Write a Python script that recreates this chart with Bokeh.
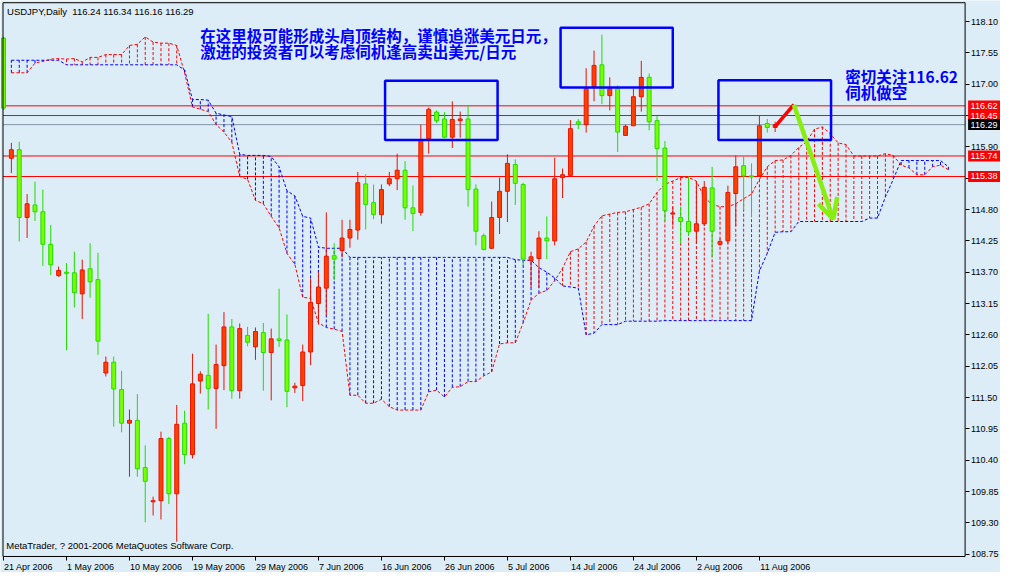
from bokeh.plotting import figure
from bokeh.models import (Range1d, Label, FixedTicker, ColumnDataSource, LinearAxis,
                          PrintfTickFormatter)
from bokeh.core.properties import value
from bokeh.embed import file_html
from bokeh.resources import INLINE

# ---------------- data ----------------
opens = [117.81, 115.70, 115.85, 114.66, 114.88, 114.76, 114.19, 113.64, 113.70, 113.69,
         113.32, 113.76, 113.57, 111.93, 112.12, 111.64, 111.05, 111.10, 110.27, 109.67,
         109.69, 110.78, 109.81, 111.05, 110.50, 111.79, 111.89, 111.66, 112.06, 112.74,
         111.62, 112.59, 112.39, 112.64, 112.29, 112.53, 112.51, 111.67, 111.71, 112.30,
         113.15, 113.42, 113.99, 114.08, 114.30, 114.44, 115.25, 114.92, 114.71, 115.25,
         115.34, 115.49, 114.83, 114.75, 116.04, 116.51, 116.39, 116.07, 116.36, 116.39,
         115.16, 114.34, 114.12, 114.66, 115.12, 115.59, 115.24, 113.90, 113.94, 114.30,
         114.25, 115.36, 115.40, 116.34, 116.29, 116.96, 117.34, 116.80, 116.92, 116.10,
         116.27, 116.78, 117.12, 116.36, 115.88, 114.72, 114.66, 114.59, 114.42, 114.55,
         115.18, 114.19, 114.25, 115.08, 115.57, 115.39, 115.39, 116.31, 116.24]
highs = [117.83, 115.97, 115.99, 115.07, 115.29, 115.15, 114.53, 113.80, 113.86, 114.06,
         113.92, 114.21, 114.04, 112.22, 112.22, 111.97, 111.29, 111.56, 110.66, 109.76,
         110.90, 110.81, 111.37, 111.27, 112.27, 111.96, 112.97, 112.43, 113.00, 112.88,
         112.80, 112.74, 112.73, 112.81, 112.71, 113.41, 112.96, 111.76, 112.43, 113.59,
         113.70, 114.75, 114.21, 114.62, 114.62, 115.46, 115.42, 115.24, 115.24, 115.46,
         115.78, 115.65, 115.22, 116.29, 116.59, 116.54, 116.51, 116.70, 116.52, 116.63,
         115.24, 114.38, 114.94, 115.36, 115.77, 115.68, 115.27, 114.06, 114.42, 114.68,
         115.71, 115.52, 116.37, 116.39, 117.28, 117.59, 117.87, 117.12, 116.98, 116.29,
         116.92, 117.41, 117.19, 116.44, 116.00, 114.85, 114.85, 115.38, 115.30, 115.30,
         115.55, 114.29, 115.22, 115.75, 115.73, 115.61, 116.45, 116.39, 116.34]
lows = [116.55, 115.44, 114.24, 114.30, 114.60, 113.81, 113.65, 113.62, 112.33, 113.08,
        112.88, 113.25, 112.25, 111.87, 110.99, 110.89, 110.11, 110.11, 109.31, 109.43,
        109.36, 109.63, 108.97, 110.33, 110.43, 111.57, 111.29, 110.95, 111.63, 111.48,
        111.48, 112.40, 112.16, 111.62, 111.45, 112.39, 111.33, 111.58, 111.44, 112.07,
        112.78, 112.94, 113.56, 113.96, 114.13, 114.27, 114.45, 114.63, 114.55, 115.21,
        115.14, 114.62, 114.42, 114.69, 115.78, 116.32, 116.05, 115.88, 116.06, 114.85,
        114.17, 114.08, 114.11, 114.37, 114.58, 114.88, 113.82, 113.43, 113.43, 113.93,
        114.17, 115.00, 115.40, 116.21, 116.15, 116.70, 116.65, 116.54, 115.81, 116.10,
        116.27, 116.52, 116.19, 115.30, 114.60, 114.52, 114.20, 114.35, 114.20, 114.51,
        113.97, 114.16, 114.20, 114.51, 114.79, 114.67, 115.39, 116.15, 116.16]
closes = [116.58, 115.85, 114.66, 114.90, 114.76, 114.19, 113.83, 113.73, 113.68, 113.34,
          113.74, 113.53, 112.49, 112.12, 111.65, 111.05, 111.10, 110.25, 110.03, 109.69,
          110.78, 109.81, 111.03, 110.50, 111.74, 111.91, 111.66, 112.08, 112.74, 111.62,
          112.71, 112.47, 112.66, 112.29, 112.53, 112.50, 111.61, 111.70, 112.30, 113.17,
          113.44, 113.98, 113.93, 114.30, 114.45, 115.27, 114.89, 114.71, 115.15, 115.34,
          115.49, 114.83, 114.73, 116.02, 116.56, 116.36, 116.07, 116.38, 116.39, 115.15,
          114.42, 114.10, 114.66, 115.12, 115.61, 115.26, 113.93, 113.97, 114.30, 114.25,
          115.34, 115.41, 116.22, 116.30, 116.92, 117.33, 116.80, 116.92, 116.16, 116.26,
          116.78, 117.12, 116.34, 115.87, 114.78, 114.74, 114.59, 114.41, 114.55, 115.19,
          114.42, 114.24, 115.10, 115.55, 115.39, 115.37, 116.27, 116.24, 116.29]

# Ichimoku cloud, bars 1..120
span_a = [117.20, 117.20, 117.20, 117.37, 117.40, 117.44, 117.45, 117.44, 117.45, 117.39,
          117.47, 117.47, 117.52, 117.52, 117.52, 117.68, 117.70, 117.83, 117.74, 117.72,
          117.72, 117.68, 117.20, 116.60, 116.56, 116.52, 116.29, 116.16, 115.98, 115.38,
          115.33, 114.96, 114.90, 114.68, 114.48, 114.03, 113.84, 113.26, 113.24, 112.81,
          112.73, 112.70, 112.66, 111.54, 111.54, 111.40, 111.40, 111.47, 111.34, 111.28,
          111.28, 111.28, 111.28, 111.60, 111.63, 111.51, 111.68, 111.69, 111.78, 111.78,
          111.88, 111.95, 112.44, 112.46, 112.46, 112.81, 113.21, 113.33, 113.38, 113.55,
          113.77, 114.06, 114.11, 114.23, 114.51, 114.69, 114.72, 114.75, 114.76, 114.80,
          114.84, 114.90, 115.10, 115.24, 115.30, 115.36, 115.36, 115.30, 115.01, 114.89,
          114.85, 114.85, 114.90, 114.99, 115.07, 115.33, 115.55, 115.66, 115.67, 115.75,
          115.89, 115.99, 116.21, 116.25, 116.13, 115.97, 115.94, 115.74, 115.74, 115.74,
          115.74, 115.78, 115.75, 115.58, 115.53, 115.41, 115.41, 115.55, 115.58, 115.50]
span_b = [117.42, 117.42, 117.42, 117.42, 117.42, 117.42, 117.42, 117.34, 117.34, 117.34,
          117.34, 117.34, 117.34, 117.34, 117.34, 117.34, 117.34, 117.34, 117.34, 117.34,
          117.34, 117.34, 117.25, 116.73, 116.73, 116.72, 116.49, 116.46, 116.43, 115.77,
          115.75, 115.75, 115.75, 115.73, 115.55, 115.13, 115.04, 114.68, 114.65, 114.14,
          114.12, 114.12, 114.12, 113.96, 113.96, 113.96, 113.96, 113.96, 113.96, 113.96,
          113.96, 113.96, 113.96, 113.96, 113.96, 113.96, 113.96, 113.96, 113.96, 113.96,
          113.96, 113.96, 113.96, 113.96, 113.92, 113.91, 113.91, 113.78, 113.70, 113.60,
          113.46, 113.44, 113.42, 112.60, 112.63, 112.78, 112.78, 112.78, 112.84, 112.84,
          112.84, 112.84, 112.84, 112.85, 112.85, 112.85, 112.85, 112.85, 112.85, 112.85,
          112.85, 112.85, 112.85, 112.85, 112.85, 113.72, 114.03, 114.40, 114.41, 114.41,
          114.59, 114.59, 114.59, 114.59, 114.59, 114.59, 114.59, 114.59, 114.59, 114.65,
          114.65, 115.02, 115.33, 115.66, 115.66, 115.66, 115.66, 115.66, 115.66, 115.55]
cloud_first_bar = 1

date_bars = [0, 8, 16, 24, 32, 40, 48, 56, 64, 72, 80, 88, 96]
date_labels = ["21 Apr 2006", "1 May 2006", "10 May 2006", "19 May 2006", "29 May 2006",
               "7 Jun 2006", "16 Jun 2006", "26 Jun 2006", "5 Jul 2006", "14 Jul 2006",
               "24 Jul 2006", "2 Aug 2006", "11 Aug 2006"]
price_ticks = [108.75, 109.30, 109.85, 110.40, 110.95, 111.50, 112.05, 112.60, 113.15,
               113.70, 114.25, 114.80, 115.35, 115.90, 116.45, 117.00, 117.55, 118.10]

level_prices = [116.62, 116.45, 115.74, 115.38]
bid_price = 116.29
title_text = "USDJPY,Daily\u00a0 116.24 116.34 116.16 116.29"
footer_text = "MetaTrader, ? 2001-2006 MetaQuotes Software Corp."

# analyst annotations (bar index / price)
box_left = [48.46, 70.75, 90.8]
box_right = [62.75, 85.0, 105.1]
box_top = [117.06, 117.99, 117.07]
box_bottom = [116.02, 116.94, 116.02]
red_arrow_x = [97.96, 100.38]
red_arrow_y = [116.25, 116.64]
green_shaft_x = [100.38, 105.38]
green_shaft_y = [116.64, 114.63]
green_head_x = [103.5, 105.38, 105.88]
green_head_y = [114.90, 114.63, 115.02]
note1_lines = ["在这里极可能形成头肩顶结构，谨慎追涨美元日元，",
               "激进的投资者可以考虑伺机逢高卖出美元/日元"]
note1_pos = (25.0, [117.86, 117.59])
note2_lines = ["密切关注116.62", "伺机做空"]
note2_pos = (106.9, [117.14, 116.86])

# ---------------- layout / styling ----------------
BG = "#dcedf7"
UP_FILL, UP_LINE = "#ff4000", "#ee1100"
DN_FILL, DN_LINE = "#77ff00", "#22dd00"
FONT = "Liberation Sans"
W, H = 1000, 572
XS, XE = -0.38, 126.62        # whole canvas
YS, YE = 108.429, 118.469
X0, X1 = -0.0625, 122.125     # chart area
Y0, Y1 = 108.71, 118.43
PX_PER_BAR = W / (XE - XS)
PX_PER_UNIT = H / (YE - YS)

p = figure(width=W, height=H, x_range=Range1d(XS, XE), y_range=Range1d(YS, YE),
           x_axis_location=None, y_axis_location=None, output_backend="svg",
           toolbar_location=None, min_border_left=0, min_border_right=0,
           min_border_top=0, min_border_bottom=0)
p.background_fill_color = BG
p.border_fill_color = BG
p.outline_line_color = None
p.xgrid.visible = False
p.ygrid.visible = False

# right price axis, drawn at the chart-area edge
yax = LinearAxis(fixed_location=X1, ticker=FixedTicker(ticks=price_ticks),
                 formatter=PrintfTickFormatter(format="%.2f"))
yax.axis_line_color = None
yax.major_tick_out = 4
yax.major_tick_in = 0
yax.major_tick_line_color = "black"
yax.minor_tick_line_color = None
yax.major_label_text_font = FONT
yax.major_label_text_font_size = "9px"
yax.major_label_text_color = "black"
yax.major_label_standoff = 2
p.add_layout(yax, "right")

# bottom date axis: labels start at their tick (MetaTrader style)
CW = {" ": 0.278, "A": 0.667, "M": 0.833, "J": 0.5, "p": 0.556, "r": 0.333, "a": 0.556,
      "y": 0.5, "u": 0.556, "n": 0.556, "l": 0.222, "g": 0.556}
def text_px(t, size=9.0):
    return sum(CW.get(ch, 0.556) for ch in t) * size
label_centers = [round(b + (0.6 + text_px(t) / 2) / PX_PER_BAR, 3)
                 for b, t in zip(date_bars, date_labels)]
xax = LinearAxis(fixed_location=Y0,
                 ticker=FixedTicker(ticks=label_centers, minor_ticks=date_bars),
                 major_label_overrides={c: t for c, t in zip(label_centers, date_labels)})
xax.axis_line_color = None
xax.major_tick_line_color = None
xax.major_tick_out = 0
xax.major_tick_in = 0
xax.minor_tick_out = 4
xax.minor_tick_in = 0
xax.minor_tick_line_color = "black"
xax.major_label_text_font = FONT
xax.major_label_text_font_size = "9px"
xax.major_label_text_color = "black"
xax.major_label_standoff = 2
p.add_layout(xax, "below")

# horizontal levels (under everything else)
p.segment(x0=[X0] * len(level_prices), x1=[X1] * len(level_prices),
          y0=level_prices, y1=level_prices, line_color="#ff0000", line_width=1)
p.segment(x0=[X0], x1=[X1], y0=[bid_price], y1=[bid_price], line_color="#8494a6",
          line_width=1)

# cloud
cb = list(range(cloud_first_bar, cloud_first_bar + len(span_a)))
ccol = ["#ff0000" if a > b else "#0000ff" for a, b in zip(span_a, span_b)]
p.segment(x0=cb, y0=span_a, x1=cb, y1=span_b, line_color=ccol, line_width=1,
          line_dash="3 2")
p.line(cb, span_b, line_color="#0000ff", line_width=1, line_dash="3 2")
p.line(cb, span_a, line_color="#ff0000", line_width=1, line_dash="3 2")

# candles
bars = list(range(len(opens)))
up = [c >= o for o, c in zip(opens, closes)]
src = ColumnDataSource(dict(
    x=bars, h=highs, l=lows,
    top=[max(o, c) for o, c in zip(opens, closes)],
    bottom=[min(o, c) for o, c in zip(opens, closes)],
    fill=[UP_FILL if u else DN_FILL for u in up],
    line=[UP_LINE if u else DN_LINE for u in up]))
p.segment(x0="x", y0="h", x1="x", y1="l", line_color="line", line_width=1, source=src)
p.vbar(x="x", width=0.5, top="top", bottom="bottom", fill_color="fill",
       line_color="line", line_width=1, source=src)

# chart-area frame (left, top, right, bottom)
p.line([X0, X0, X1, X1, X0], [Y0, Y1, Y1, Y0, Y0], line_color="black", line_width=1)

# annotation boxes and arrows
p.quad(left=box_left, right=box_right, top=box_top, bottom=box_bottom,
       fill_color=None, line_color="#0000ff", line_width=2.5)
p.line(red_arrow_x, red_arrow_y, line_color="#ff0000", line_width=3.5)
p.line(green_shaft_x, green_shaft_y, line_color="#88ee11", line_width=4.5)
p.line(green_head_x, green_head_y, line_color="#88ee11", line_width=4.5)

# price tags on the axis
tag_prices = level_prices + [bid_price]
tag_colors = ["#ff0000"] * len(level_prices) + ["#000000"]
tag_left = X1 + 3 / PX_PER_BAR
p.quad(left=[tag_left] * len(tag_prices), right=[XE] * len(tag_prices),
       top=[v + 5.4 / PX_PER_UNIT for v in tag_prices],
       bottom=[v - 5.4 / PX_PER_UNIT for v in tag_prices],
       fill_color=tag_colors, line_color=None, level="overlay")
p.text(x=[tag_left + 2.5 / PX_PER_BAR] * len(tag_prices), y=tag_prices,
       text=["%.2f" % v for v in tag_prices], text_color="white",
       text_font=value(FONT), text_font_size="9px", text_baseline="middle",
       text_align="left", level="overlay")

# texts
p.add_layout(Label(x=0.45, y=118.28, text=title_text, text_font=FONT,
                   text_font_size="9.5px", text_color="black",
                   text_baseline="middle", text_align="left"))
p.add_layout(Label(x=0.35, y=108.91, text=footer_text, text_font=FONT,
                   text_font_size="9.5px", text_color="black",
                   text_baseline="middle", text_align="left"))
for t, yy in zip(note1_lines, note1_pos[1]):
    p.add_layout(Label(x=note1_pos[0], y=yy, text=t, text_font="Noto Sans CJK SC",
                       text_font_size="15.5px", text_font_style="bold",
                       text_color="#0000ff", text_baseline="middle", text_align="left"))
for t, yy in zip(note2_lines, note2_pos[1]):
    p.add_layout(Label(x=note2_pos[0], y=yy, text=t, text_font="Noto Sans CJK SC",
                       text_font_size="15.5px", text_font_style="bold",
                       text_color="#0000ff", text_baseline="middle", text_align="left"))

open("out.html", "w").write(file_html(p, INLINE, title="USDJPY,Daily"))
